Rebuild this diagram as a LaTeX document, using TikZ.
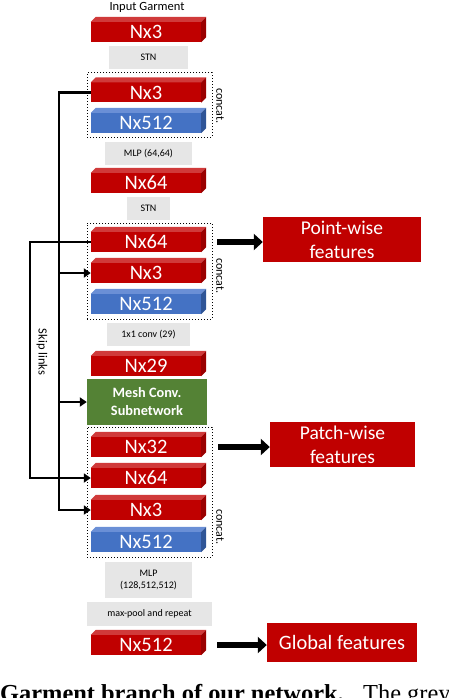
\documentclass[tikz,border=0pt]{standalone}
\usepackage{fontspec}
\setmainfont{Carlito}
\newfontfamily\capfont{Liberation Serif}
\usetikzlibrary{arrows.meta,calc}
\definecolor{rd}{HTML}{C00000}
\definecolor{rdtop}{HTML}{D03A3A}
\definecolor{rdside}{HTML}{9A0000}
\definecolor{bl}{HTML}{4472C4}
\definecolor{bltop}{HTML}{6A8FD6}
\definecolor{blside}{HTML}{2F5597}
\definecolor{gr}{HTML}{548235}
\definecolor{gy}{HTML}{E6E6E6}
\tikzset{
 layer/.style={minimum width=110pt, minimum height=20pt, inner sep=0pt, text=white, font=\fontsize{20.5}{22}\selectfont},
 redlayer/.style={layer, fill=rd},
 bluelayer/.style={layer, fill=bl},
 op/.style={fill=gy, inner sep=0pt, font=\fontsize{10}{12}\selectfont, align=center},
 grp/.style={draw=black, dotted, line width=1pt, inner sep=0pt},
 outbox/.style={fill=rd, text=white, inner sep=0pt, font=\fontsize{19.5}{24}\selectfont, align=center},
 bigarrow/.style={line width=6pt, -{Triangle[length=9pt,width=16pt]}},
 skip/.style={line width=2.6pt, -{Triangle[length=7pt,width=9pt]}},
 lbl/.style={font=\fontsize{12.5}{14}\selectfont, inner sep=0pt},
}
\newcommand\depthfaces[3]{%
 \fill[#2] (#1.north west) -- ++(5,-5) -- ($(#1.north east)+(5,-5)$) -- (#1.north east) -- cycle;
 \fill[#3] (#1.north east) -- ++(5,-5) -- ($(#1.south east)+(5,-5)$) -- (#1.south east) -- cycle;}
\begin{document}
\begin{tikzpicture}[x=1pt,y=-1pt]
\path[use as bounding box, clip] (0,0) rectangle (448,698);
% dotted groups
\node[grp, minimum width=125pt, minimum height=64pt] (g1) at (149.5,105) {};
\node[grp, minimum width=125pt, minimum height=96pt] (g2) at (149.5,271) {};
\node[grp, minimum width=125pt, minimum height=130pt] (g3) at (149.5,492) {};
% title
\node[lbl] (title) at (147,7) {Input Garment};
% layers and ops
\node[redlayer] (n1) at (146,32) {Nx3};
\node[op, minimum width=79pt, minimum height=23pt] (s1) at (148.5,57.5) {STN};
\node[redlayer] (n2) at (146,92.5) {Nx3};
\node[bluelayer] (n3) at (146,123) {Nx512};
\node[op, minimum width=87pt, minimum height=23pt] (m1) at (148.5,153.5) {MLP (64,64)};
\node[redlayer] (n4) at (146,183) {Nx64};
\node[op, minimum width=43pt, minimum height=23pt] (s2) at (148.5,208.5) {STN};
\node[redlayer] (n5) at (146,242) {Nx64};
\node[redlayer] (n6) at (146,273) {Nx3};
\node[bluelayer] (n7) at (146,304) {Nx512};
\node[op, minimum width=83pt, minimum height=23pt] (c1) at (148.5,334.5) {1x1 conv (29)};
\node[redlayer] (n8) at (146,366) {Nx29};
\node[fill=gr, minimum width=120pt, minimum height=46pt, text=white, font=\bfseries\fontsize{14.3}{18}\selectfont, align=center, inner sep=0pt] (mesh) at (147,402) {Mesh Conv.\\Subnetwork};
\node[redlayer] (n9) at (146,447) {Nx32};
\node[redlayer] (n10) at (146,478) {Nx64};
\node[redlayer] (n11) at (146,510) {Nx3};
\node[bluelayer] (n12) at (146,542) {Nx512};
\node[op, minimum width=87pt, minimum height=36pt] (m2) at (148.5,580) {MLP\\(128,512,512)};
\node[op, minimum width=125pt, minimum height=24pt] (mp) at (149.5,614) {max-pool and repeat};
\node[redlayer] (n13) at (146,645) {Nx512};
% 3D faces
\foreach \n in {n1,n2,n4,n5,n6,n8,n9,n10,n11,n13} {\depthfaces{\n}{rdtop}{rdside}}
\foreach \n in {n3,n7,n12} {\depthfaces{\n}{bltop}{blside}}
% concat labels
\node[lbl, font=\fontsize{12}{14}\selectfont, rotate=-90] (cc1) at (220,106) {concat.};
\node[lbl, font=\fontsize{12}{14}\selectfont, rotate=-90] (cc2) at (220,276) {concat.};
\node[lbl, font=\fontsize{12}{14}\selectfont, rotate=-90] (cc3) at (220,527) {concat.};
% outputs
\node[outbox, minimum width=158pt, minimum height=45pt] (pw) at (342,239.5) {Point-wise\\features};
\node[outbox, minimum width=145pt, minimum height=45pt] (pa) at (342.5,444.5) {Patch-wise\\features};
\node[outbox, font=\fontsize{20.4}{24}\selectfont, minimum width=150pt, minimum height=39pt] (gl) at (342,642.5) {Global features};
\draw[bigarrow] ([xshift=16pt]n5.east) -- (pw.west |- n5.east);
\draw[bigarrow] ([xshift=17pt]n9.east) -- (pa.west |- n9.east);
\draw[bigarrow] ([xshift=16pt]n13.east) -- (gl.west |- n13.east);
% skip links
\coordinate (kx) at (59,0);
\coordinate (ky) at (30,0);
\draw[skip] (n2.west) -- (n2.west -| kx) |- (n11.west);
\draw[skip] (n6.west -| kx) -- (n6.west);
\draw[skip] (mesh.west -| kx) -- (mesh.west);
\draw[skip] (n5.west) -- (n5.west -| ky) |- (n10.west);
\node[lbl, rotate=-90] (sk) at (42,352) {Skip links};
% caption (cut off)
\node[anchor=base west, inner sep=0pt, font=\capfont\bfseries\fontsize{24.4}{28}\selectfont] (cap1) at (0,701) {Garment branch of our network.};
\node[anchor=base west, inner sep=0pt, font=\capfont\fontsize{24.4}{28}\selectfont] (cap2) at (363,701) {The grey};
\end{tikzpicture}
\end{document}
